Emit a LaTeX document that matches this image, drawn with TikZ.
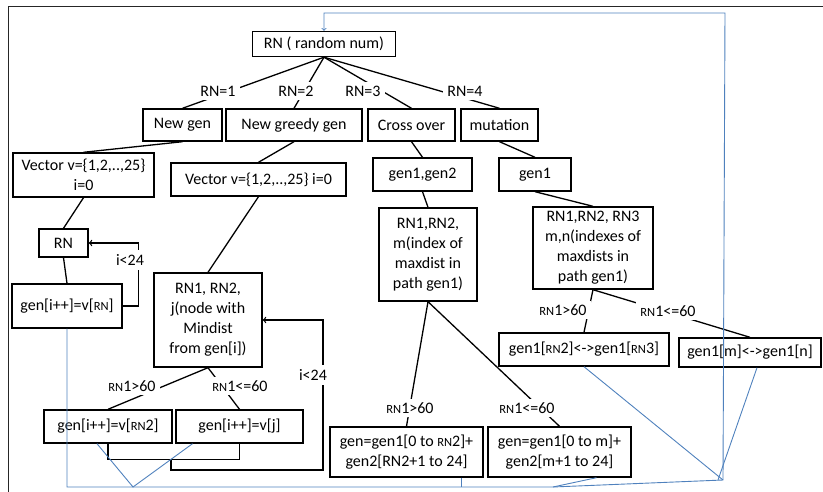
\documentclass[tikz,border=0pt]{standalone}
\usepackage{fontspec}
\setmainfont{Carlito}
\definecolor{loopblue}{RGB}{79,129,189}
\newcommand{\rnsm}{{\fontsize{12.5}{12.5}\selectfont RN}}
\tikzset{
	box/.style={draw, line width=1.4pt, fill=white, inner sep=1pt, align=center, font=\fontsize{16}{20}\selectfont},
	lbl/.style={fill=white, inner sep=4pt, font=\fontsize{16}{20}\selectfont},
	link/.style={line width=1.3pt},
	back/.style={draw=loopblue, line width=0.9pt}
}
\begin{document}
\begin{tikzpicture}[x=1pt, y=-1pt]
	\useasboundingbox (0,0) rectangle (823,492);
	\draw [line width=0.8pt, black!85] (823,6) -- (8,6) -- (8,492);
	
	% top of the tree
	\node[box, minimum width=143, minimum height=25] (rn) at (324,44) {RN ( random num)};
	\node[box, minimum width=79, minimum height=32] (newgen) at (182.5,125) {New gen};
	\node[box, minimum width=136, minimum height=32] (greedy) at (294,125) {New greedy gen};
	\node[box, minimum width=87, minimum height=32] (cross) at (411.5,125) {Cross over};
	\node[box, minimum width=77, minimum height=32] (mut) at (499.5,125) {mutation};
	
	% new gen
	\node[box, minimum width=141, minimum height=44] (vecl) at (83.5,175) {Vector v=\{1,2,..,25\}\\i=0};
	\node[box, minimum width=49, minimum height=28] (rnl) at (63.5,243) {RN};
	\node[box, minimum width=110, minimum height=44] (genrn) at (67,306) {gen[i++]=v[\rnsm]};
	
	% new greedy gen
	\node[box, minimum width=175, minimum height=33] (vecm) at (258.5,179.5) {Vector v=\{1,2,..,25\} i=0};
	\node[box, minimum width=108, minimum height=94] (jbox) at (208,320) {RN1, RN2,\\j(node with\\Mindist\\from gen[i])};
	\node[box, minimum width=128, minimum height=33] (gvrn2) at (108,426.5) {gen[i++]=v[\rnsm2]};
	\node[box, minimum width=127, minimum height=33] (gvj) at (239.5,426.5) {gen[i++]=v[j]};
	
	% cross over
	\node[box, minimum width=99, minimum height=33] (gg) at (422.5,174.5) {gen1,gen2};
	\node[box, minimum width=98, minimum height=93] (xbox) at (428,254.5) {RN1,RN2,\\m(index of\\maxdist in\\path gen1)};
	\node[box, minimum width=153, minimum height=50] (cx1) at (406.5,452) {gen=gen1[0 to \rnsm2]+\\gen2[RN2+1 to 24]};
	\node[box, minimum width=143, minimum height=50] (cx2) at (559.5,452) {gen=gen1[0 to m]+\\gen2[m+1 to 24]};
	
	% mutation
	\node[box, minimum width=72, minimum height=33] (g1) at (535,174.5) {gen1};
	\node[box, minimum width=120, minimum height=82] (mbox) at (593,248) {RN1,RN2, RN3\\m,n(indexes of\\maxdists in\\path gen1)};
	\node[box, minimum width=170, minimum height=33] (sw1) at (584,349.5) {gen1[\rnsm2]<->gen1[\rnsm3]};
	\node[box, minimum width=142, minimum height=29] (sw2) at (750,352.5) {gen1[m]<->gen1[n]};
	
	% links
	\draw [link] (rn.south) -- (newgen.north);
	\draw [link] (rn.south) -- (greedy.north);
	\draw [link] (rn.south) -- (cross.north);
	\draw [link] (rn.south) -- (mut.north);
	\draw [link] (newgen.south) -- (vecl.north);
	\draw [link] (greedy.south) -- (vecm.north);
	\draw [link] (cross.south) -- (gg.north);
	\draw [link] (mut.south) -- (g1.north);
	\draw [link] (vecl.south) -- (rnl.north);
	\draw [link] (rnl.south) -- (genrn.north);
	\draw [link] (vecm.south) -- (jbox.north);
	\draw [link] (jbox.south) -- (gvrn2.north);
	\draw [link] (jbox.south) -- (gvj.north);
	\draw [link] (gg.south) -- (xbox.north);
	\draw [link] (xbox.south) -- (cx1.north);
	\draw [link] (xbox.south) -- (cx2.north);
	\draw [link] (g1.south) -- (mbox.north);
	\draw [link] (mbox.south) -- (sw1.north);
	\draw [link] (mbox.south) -- (sw2.north);
	
	% loops i<24
	\draw [link, ->] (genrn.east) -- ++(16,0) |- (rnl.east);
	\draw [link] (gvrn2.south) -- ++(0,16) -| (gvj.south);
	\coordinate (merge) at (171,459);
	\draw [link, ->] (merge) |- ++(152,11) |- (jbox.east);
	
	% labels
	\node[lbl] (l1) at (218,91) {RN=1};
	\node[lbl] (l2) at (296,91) {RN=2};
	\node[lbl] (l3) at (363,91) {RN=3};
	\node[lbl] (l4) at (465,91) {RN=4};
	\node[lbl] (i1) at (130,260) {i<24};
	\node[lbl] (i2) at (313,375) {i<24};
	\node[lbl] (a1) at (132,386) {\rnsm1>60};
	\node[lbl] (a2) at (240,386) {\rnsm1<=60};
	\node[lbl] (b1) at (410,408) {\rnsm1>60};
	\node[lbl] (b2) at (527,408) {\rnsm1<=60};
	\node[lbl] (c1) at (563,310) {\rnsm1>60};
	\node[lbl] (c2) at (668,311) {\rnsm1<=60};
	
	% way back to RN
	\coordinate (vbot) at (133,487);
	\coordinate (bl) at (67,487);
	\coordinate (bm) at (553,487);
	\coordinate (br) at (723,480);
	\coordinate (tr) at (725,13);
	\coordinate (tl) at (324,13);
	\draw [back, ->] (genrn.south) -- (bl) -- (vbot) -- (bm) -- (br) -- (tr) -- (tl) -- (rn.north);
	\draw [back] ([xshift=-11pt]gvrn2.south) -- (vbot) -- ([xshift=-47pt]gvj.south);
	\draw [back] ([xshift=55pt]cx1.south) -- ([xshift=55pt]cx1.south |- bm);
	\draw [back] ([xshift=37pt]cx2.south) -- (bm);
	\draw [back] (sw1.south) -- (br);
	\draw [back] ([xshift=7pt]sw2.south) -- ([xshift=-5pt]br);
\end{tikzpicture}
\end{document}
